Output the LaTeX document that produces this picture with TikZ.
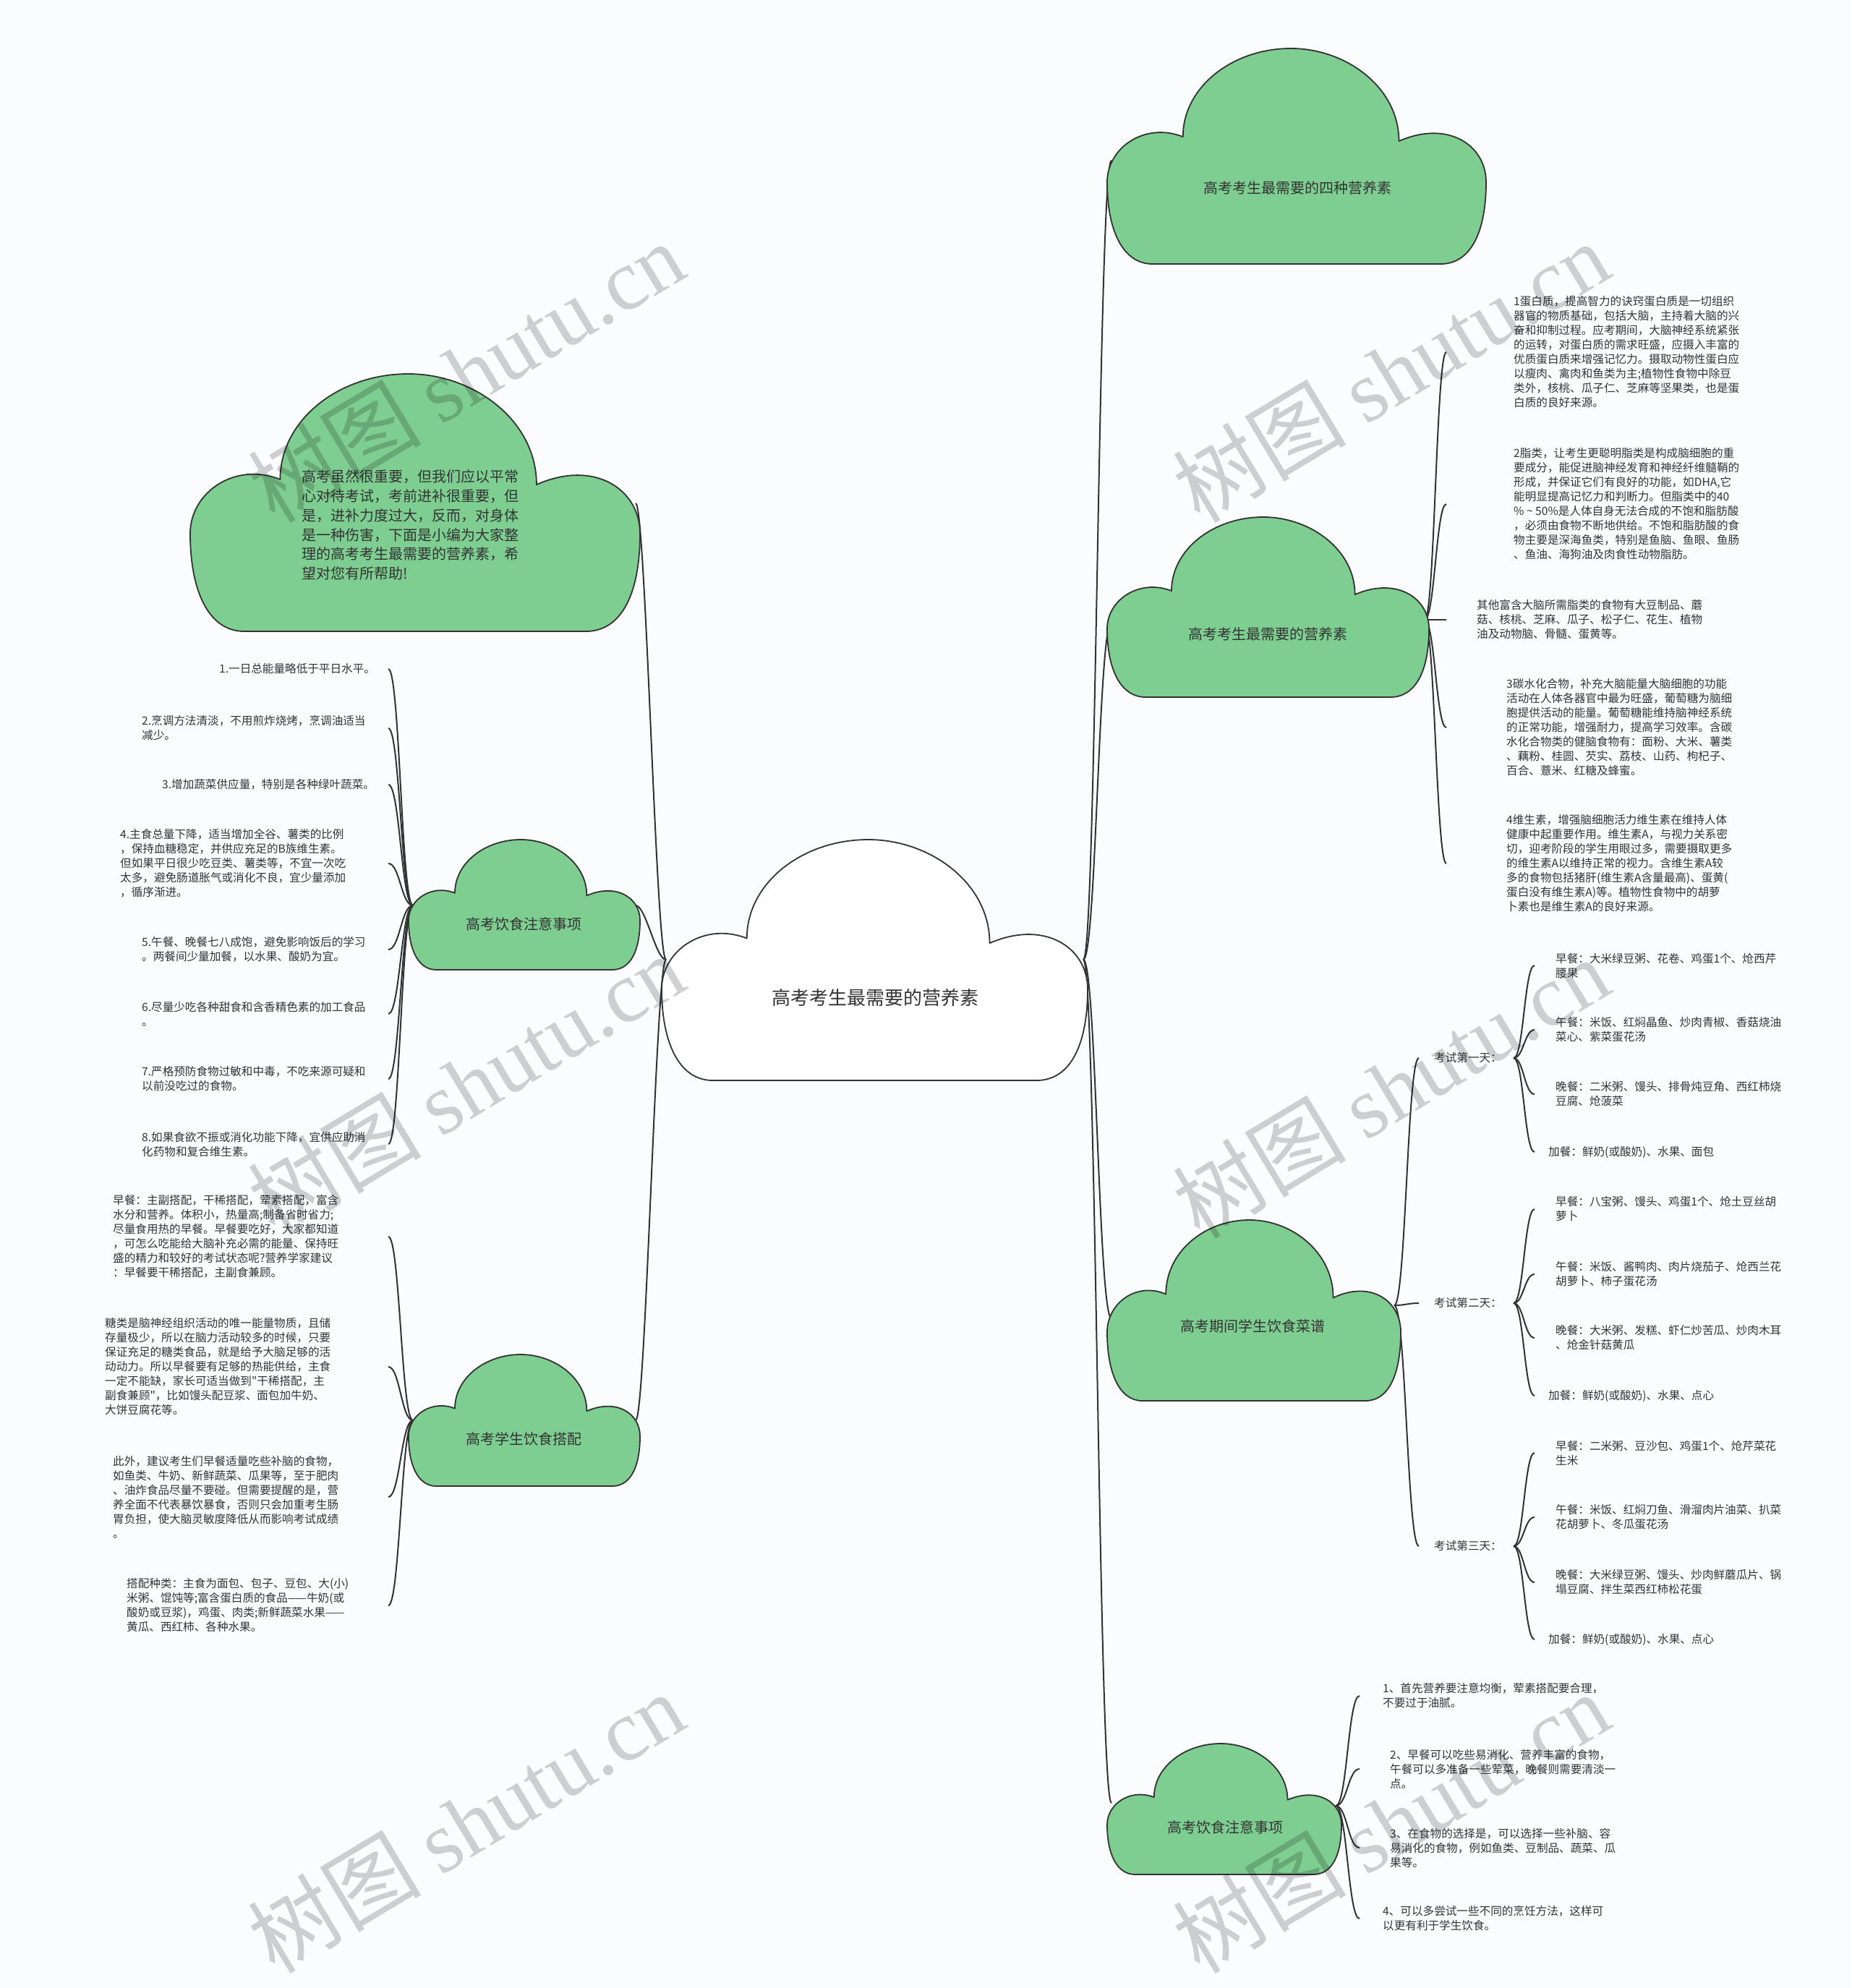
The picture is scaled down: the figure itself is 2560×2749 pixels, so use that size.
\documentclass[tikz,border=0pt]{standalone}
\usepackage{fontspec}
\setmainfont{Noto Sans CJK SC}
\newfontfamily\wmfont{Liberation Serif}
\usetikzlibrary{positioning}
\definecolor{bg}{RGB}{250,252,254}
\definecolor{leaf}{RGB}{126,205,145}
\definecolor{ink}{RGB}{51,51,51}
% cloud: style, left, top, width, height (pixel units, y down)
\newcommand{\cloud}[5]{%
  \draw[#1,shift={(#2,#3)},xscale=#4,yscale=#5]
    (0.12,1) .. controls (0.04,1) and (0,0.84) .. (0,0.62)
    .. controls (0,0.46) and (0.1,0.34) .. (0.2,0.41)
    .. controls (0.2,0.18) and (0.33,0) .. (0.485,0)
    .. controls (0.63,0) and (0.77,0.18) .. (0.77,0.43)
    .. controls (0.9,0.33) and (1,0.45) .. (1,0.62)
    .. controls (1,0.85) and (0.96,1) .. (0.88,1) -- cycle;}

\begin{document}
\begin{tikzpicture}[x=1pt,y=-1pt,
    blob/.style={draw=ink,line width=1.8pt,fill=leaf,line join=round},
    rootblob/.style={blob,fill=white},
    link/.style={draw=ink,line width=2pt},
    note/.style={font=\fontsize{15.6}{20}\selectfont,text=ink,align=left,inner sep=0pt,anchor=west},
    tag/.style={font=\fontsize{20}{26}\selectfont,text=ink,inner sep=0pt},
    wm/.style={font=\fontsize{120}{120}\selectfont,text=black,text opacity=0.18,rotate=31}]
  \fill[bg] (0,0) rectangle (2560,2749);
  \useasboundingbox (0,0) rectangle (2560,2749);

  % hubs and connector ends
  \coordinate (ctr-w) at (921,1327);
  \coordinate (ctr-e) at (1498,1327);
  \coordinate (intro-e) at (879,696);
  \coordinate (diet-e) at (879,1252);
  \coordinate (meal-e) at (879,1964);
  \coordinate (diet-w) at (571,1252);
  \coordinate (meal-w) at (571,1964);
  \coordinate (left-x) at (537,0);
  \coordinate (four-w) at (1537,222);
  \coordinate (need-w) at (1537,860);
  \coordinate (menu-w) at (1537,1823);
  \coordinate (tips-w) at (1537,2493);
  \coordinate (need-e) at (1970,857);
  \coordinate (need-x) at (2000,0);
  \coordinate (menu-e) at (1928,1805);
  \coordinate (day-x) at (1962,0);
  \coordinate (dish-hub) at (2093,0);
  \coordinate (dish-x) at (2122,0);
  \coordinate (tips-e) at (1847,2497);
  \coordinate (tips-x) at (1880,0);

  % left notes
  \node[note] (l1) at (303,925) {1.一日总能量略低于平日水平。};
  \node[note] (l2) at (196,1007) {2.烹调方法清淡，不用煎炸烧烤，烹调油适当\\减少。};
  \node[note] (l3) at (224,1085) {3.增加蔬菜供应量，特别是各种绿叶蔬菜。};
  \node[note] (l4) at (166,1194) {4.主食总量下降，适当增加全谷、薯类的比例\\，保持血糖稳定，并供应充足的B族维生素。\\但如果平日很少吃豆类、薯类等，不宜一次吃\\太多，避免肠道胀气或消化不良，宜少量添加\\，循序渐进。};
  \node[note] (l5) at (196,1313) {5.午餐、晚餐七八成饱，避免影响饭后的学习\\。两餐间少量加餐，以水果、酸奶为宜。};
  \node[note] (l6) at (196,1402) {6.尽量少吃各种甜食和含香精色素的加工食品\\。};
  \node[note] (l7) at (196,1492) {7.严格预防食物过敏和中毒，不吃来源可疑和\\以前没吃过的食物。};
  \node[note] (l8) at (196,1582) {8.如果食欲不振或消化功能下降，宜供应助消\\化药物和复合维生素。};

  \node[note] (ma) at (156,1710) {早餐：主副搭配，干稀搭配，荤素搭配，富含\\水分和营养。体积小，热量高;制备省时省力;\\尽量食用热的早餐。早餐要吃好，大家都知道\\，可怎么吃能给大脑补充必需的能量、保持旺\\盛的精力和较好的考试状态呢?营养学家建议\\：早餐要干稀搭配，主副食兼顾。};
  \node[note] (mb) at (145,1890) {糖类是脑神经组织活动的唯一能量物质，且储\\存量极少，所以在脑力活动较多的时候，只要\\保证充足的糖类食品，就是给予大脑足够的活\\动动力。所以早餐要有足够的热能供给，主食\\一定不能缺，家长可适当做到\textquotedbl 干稀搭配，主\\副食兼顾\textquotedbl ，比如馒头配豆浆、面包加牛奶、\\大饼豆腐花等。};
  \node[note] (mc) at (156,2070) {此外，建议考生们早餐适量吃些补脑的食物，\\如鱼类、牛奶、新鲜蔬菜、瓜果等，至于肥肉\\、油炸食品尽量不要碰。但需要提醒的是，营\\养全面不代表暴饮暴食，否则只会加重考生肠\\胃负担，使大脑灵敏度降低从而影响考试成绩\\。};
  \node[note] (md) at (175,2220) {搭配种类：主食为面包、包子、豆包、大(小)\\米粥、馄饨等;富含蛋白质的食品——牛奶(或\\酸奶或豆浆)，鸡蛋、肉类;新鲜蔬菜水果——\\黄瓜、西红柿、各种水果。};

  % right notes
  \node[note] (na) at (2093,487) {1蛋白质，提高智力的诀窍蛋白质是一切组织\\器官的物质基础，包括大脑，主持着大脑的兴\\奋和抑制过程。应考期间，大脑神经系统紧张\\的运转，对蛋白质的需求旺盛，应摄入丰富的\\优质蛋白质来增强记忆力。摄取动物性蛋白应\\以瘦肉、禽肉和鱼类为主;植物性食物中除豆\\类外，核桃、瓜子仁、芝麻等坚果类，也是蛋\\白质的良好来源。};
  \node[note] (nb) at (2093,697) {2脂类，让考生更聪明脂类是构成脑细胞的重\\要成分，能促进脑神经发育和神经纤维髓鞘的\\形成，并保证它们有良好的功能，如DHA,它\\能明显提高记忆力和判断力。但脂类中的40\\\% \textasciitilde{} 50\%是人体自身无法合成的不饱和脂肪酸\\，必须由食物不断地供给。不饱和脂肪酸的食\\物主要是深海鱼类，特别是鱼脑、鱼眼、鱼肠\\、鱼油、海狗油及肉食性动物脂肪。};
  \node[note] (nc) at (2042,857) {其他富含大脑所需脂类的食物有大豆制品、蘑\\菇、核桃、芝麻、瓜子、松子仁、花生、植物\\油及动物脑、骨髓、蛋黄等。};
  \node[note] (nd) at (2083,1006) {3碳水化合物，补充大脑能量大脑细胞的功能\\活动在人体各器官中最为旺盛，葡萄糖为脑细\\胞提供活动的能量。葡萄糖能维持脑神经系统\\的正常功能，增强耐力，提高学习效率。含碳\\水化合物类的健脑食物有：面粉、大米、薯类\\、藕粉、桂圆、芡实、荔枝、山药、枸杞子、\\百合、薏米、红糖及蜂蜜。};
  \node[note] (ne) at (2083,1194) {4维生素，增强脑细胞活力维生素在维持人体\\健康中起重要作用。维生素A，与视力关系密\\切，迎考阶段的学生用眼过多，需要摄取更多\\的维生素A以维持正常的视力。含维生素A较\\多的食物包括猪肝(维生素A含量最高)、蛋黄(\\蛋白没有维生素A)等。植物性食物中的胡萝\\卜素也是维生素A的良好来源。};

  % menu
  \node[note] (d1) at (1983,1463) {考试第一天：};
  \node[note] (d2) at (1983,1802) {考试第二天：};
  \node[note] (d3) at (1983,2138) {考试第三天：};
  \node[note] (m11) at (2151,1335) {早餐：大米绿豆粥、花卷、鸡蛋1个、炝西芹\\腰果};
  \node[note] (m12) at (2151,1424) {午餐：米饭、红焖晶鱼、炒肉青椒、香菇烧油\\菜心、紫菜蛋花汤};
  \node[note] (m13) at (2151,1513) {晚餐：二米粥、馒头、排骨炖豆角、西红柿烧\\豆腐、炝菠菜};
  \node[note] (m14) at (2141,1593) {加餐：鲜奶(或酸奶)、水果、面包};
  \node[note] (m21) at (2151,1672) {早餐：八宝粥、馒头、鸡蛋1个、炝土豆丝胡\\萝卜};
  \node[note] (m22) at (2151,1762) {午餐：米饭、酱鸭肉、肉片烧茄子、炝西兰花\\胡萝卜、柿子蛋花汤};
  \node[note] (m23) at (2151,1850) {晚餐：大米粥、发糕、虾仁炒苦瓜、炒肉木耳\\、炝金针菇黄瓜};
  \node[note] (m24) at (2141,1930) {加餐：鲜奶(或酸奶)、水果、点心};
  \node[note] (m31) at (2151,2009) {早餐：二米粥、豆沙包、鸡蛋1个、炝芹菜花\\生米};
  \node[note] (m32) at (2151,2098) {午餐：米饭、红焖刀鱼、滑溜肉片油菜、扒菜\\花胡萝卜、冬瓜蛋花汤};
  \node[note] (m33) at (2151,2188) {晚餐：大米绿豆粥、馒头、炒肉鲜蘑瓜片、锅\\塌豆腐、拌生菜西红柿松花蛋};
  \node[note] (m34) at (2141,2267) {加餐：鲜奶(或酸奶)、水果、点心};

  \node[note] (t1) at (1912,2345) {1、首先营养要注意均衡，荤素搭配要合理，\\不要过于油腻。};
  \node[note] (t2) at (1922,2446) {2、早餐可以吃些易消化、营养丰富的食物，\\午餐可以多准备一些荤菜，晚餐则需要清淡一\\点。};
  \node[note] (t3) at (1922,2555) {3、在食物的选择是，可以选择一些补脑、容\\易消化的食物，例如鱼类、豆制品、蔬菜、瓜\\果等。};
  \node[note] (t4) at (1912,2653) {4、可以多尝试一些不同的烹饪方法，这样可\\以更有利于学生饮食。};

  % connectors
  \foreach \c in {intro-e,diet-e,meal-e}
    \draw[link] (ctr-w) .. controls +(-14,0) and +(14,0) .. (\c);
  \foreach \c in {four-w,need-w,menu-w,tips-w}
    \draw[link] (ctr-e) .. controls +(18,0) and +(-18,0) .. (\c);
  \foreach \n in {l1,l2,l3,l4,l5,l6,l7,l8}
    \draw[link] (diet-w) .. controls +(-16,0) and +(16,0) .. (left-x |- \n.west);
  \foreach \n in {ma,mb,mc,md}
    \draw[link] (meal-w) .. controls +(-16,0) and +(16,0) .. (left-x |- \n.west);
  \foreach \n in {na,nb,nc,nd,ne}
    \draw[link] (need-e) .. controls +(14,0) and +(-14,0) .. (need-x |- \n.west);
  \foreach \n in {d1,d2,d3}
    \draw[link] (menu-e) .. controls +(16,0) and +(-16,0) .. (day-x |- \n.west);
  \foreach \d in {1,2,3}
    \foreach \m in {1,2,3,4}
      \draw[link] (dish-hub |- d\d.west) .. controls +(14,0) and +(-14,0) .. (dish-x |- m\d\m.west);
  \foreach \n in {t1,t2,t3,t4}
    \draw[link] (tips-e) .. controls +(16,0) and +(-16,0) .. (tips-x |- \n.west);

  % clouds
  \cloud{blob}{263}{517}{622}{356}
  \cloud{blob}{565}{1161}{320}{180}
  \cloud{blob}{565}{1873}{320}{182}
  \cloud{rootblob}{915}{1161}{589}{333}
  \cloud{blob}{1531}{67}{524}{298}
  \cloud{blob}{1531}{715}{445}{249}
  \cloud{blob}{1531}{1687}{406}{250}
  \cloud{blob}{1531}{2411}{324}{181}

  \node[font=\fontsize{26}{30}\selectfont,text=ink] (root) at (1210,1380) {高考考生最需要的营养素};
  \node[tag,font=\fontsize{20}{26.8}\selectfont,align=left,anchor=west] (intro) at (417,726) {高考虽然很重要，但我们应以平常\\心对待考试，考前进补很重要，但\\是，进补力度过大，反而，对身体\\是一种伤害，下面是小编为大家整\\理的高考考生最需要的营养素，希\\望对您有所帮助!};
  \node[tag] (diet) at (724,1278) {高考饮食注意事项};
  \node[tag] (meal) at (724,1990) {高考学生饮食搭配};
  \node[tag] (four) at (1794,260) {高考考生最需要的四种营养素};
  \node[tag] (need) at (1753,877) {高考考生最需要的营养素};
  \node[tag] (menu) at (1732,1834) {高考期间学生饮食菜谱};
  \node[tag] (tips) at (1694,2527) {高考饮食注意事项};

  % watermarks
  \foreach \x/\y [count=\i] in {644/514,644/1499,644/2520,1923/514,1923/1504,1923/2520}
    \node[wm] (wm\i) at (\x,\y) {树图 {\wmfont shutu.cn}};
\end{tikzpicture}
\end{document}
